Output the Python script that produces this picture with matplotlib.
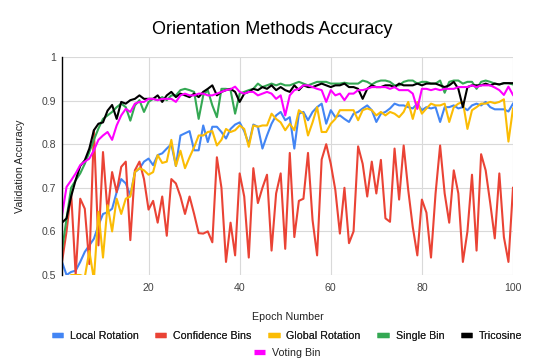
import matplotlib
matplotlib.use("Agg")
import matplotlib.pyplot as plt
from matplotlib.lines import Line2D

plt.rcParams['font.family'] = ['Liberation Sans', 'DejaVu Sans']

epochs = list(range(1, 101))

local_rotation = [
    0.53, 0.50, 0.507, 0.51, 0.53, 0.553, 0.568, 0.583, 0.614, 0.64,
    0.644, 0.652, 0.69, 0.72, 0.71, 0.683, 0.736, 0.744, 0.76, 0.767,
    0.752, 0.775, 0.779, 0.79, 0.80, 0.75, 0.82, 0.825, 0.83, 0.786,
    0.786, 0.843, 0.805, 0.84, 0.84, 0.828, 0.813, 0.835, 0.845, 0.85,
    0.83, 0.80, 0.845, 0.84, 0.79, 0.82, 0.847, 0.866, 0.874, 0.855,
    0.862, 0.79, 0.87, 0.874, 0.855, 0.874, 0.885, 0.893, 0.847, 0.878,
    0.862, 0.866, 0.858, 0.851, 0.87, 0.874, 0.882, 0.889, 0.878, 0.851,
    0.87, 0.874, 0.882, 0.893, 0.889, 0.889, 0.885, 0.882, 0.893, 0.878,
    0.885, 0.882, 0.885, 0.851, 0.885, 0.885, 0.889, 0.882, 0.885, 0.878,
    0.889, 0.893, 0.889, 0.897, 0.885, 0.88, 0.88, 0.88, 0.875, 0.893,
]

confidence_bins = [
    0.53, 0.60, 0.69, 0.50, 0.675, 0.652, 0.525, 0.832, 0.568, 0.782,
    0.644, 0.736, 0.69, 0.748, 0.76, 0.58, 0.74, 0.76, 0.72, 0.65,
    0.67, 0.62, 0.68, 0.59, 0.72, 0.71, 0.68, 0.64, 0.68, 0.64,
    0.596, 0.595, 0.60, 0.575, 0.77, 0.70, 0.53, 0.62, 0.545, 0.733,
    0.68, 0.54, 0.745, 0.665, 0.70, 0.73, 0.556, 0.687, 0.733, 0.56,
    0.78, 0.587, 0.67, 0.675, 0.78, 0.626, 0.545, 0.765, 0.80, 0.755,
    0.695, 0.595, 0.70, 0.573, 0.60, 0.795, 0.755, 0.68, 0.76, 0.687,
    0.764, 0.63, 0.622, 0.79, 0.673, 0.797, 0.695, 0.61, 0.545, 0.673,
    0.643, 0.54, 0.687, 0.797, 0.687, 0.62, 0.74, 0.687, 0.53, 0.60,
    0.73, 0.556, 0.777, 0.74, 0.665, 0.584, 0.733, 0.587, 0.53, 0.70,
]

global_rotation = [
    0.45, 0.49, 0.50, 0.50, 0.50, 0.495, 0.555, 0.49, 0.645, 0.54,
    0.66, 0.60, 0.675, 0.64, 0.675, 0.68, 0.736, 0.745, 0.74, 0.73,
    0.736, 0.775, 0.757, 0.76, 0.81, 0.75, 0.785, 0.745, 0.77, 0.793,
    0.82, 0.82, 0.828, 0.83, 0.797, 0.81, 0.835, 0.828, 0.832, 0.843,
    0.835, 0.794, 0.843, 0.84, 0.843, 0.843, 0.87, 0.858, 0.85, 0.832,
    0.847, 0.832, 0.878, 0.87, 0.82, 0.85, 0.885, 0.828, 0.828, 0.847,
    0.858, 0.878, 0.878, 0.878, 0.878, 0.855, 0.878, 0.882, 0.878, 0.866,
    0.874, 0.866, 0.874, 0.87, 0.862, 0.874, 0.897, 0.858, 0.897, 0.87,
    0.882, 0.893, 0.889, 0.889, 0.893, 0.851, 0.885, 0.893, 0.897, 0.835,
    0.878, 0.885, 0.893, 0.893, 0.897, 0.894, 0.897, 0.903, 0.806, 0.882,
]

single_bin = [
    0.555, 0.63, 0.70, 0.717, 0.733, 0.755, 0.782, 0.81, 0.836, 0.858,
    0.866, 0.874, 0.885, 0.893, 0.885, 0.854, 0.889, 0.901, 0.874, 0.897,
    0.904, 0.901, 0.908, 0.901, 0.912, 0.912, 0.924, 0.927, 0.924, 0.92,
    0.858, 0.912, 0.924, 0.889, 0.862, 0.927, 0.927, 0.924, 0.87, 0.916,
    0.92, 0.924, 0.927, 0.939, 0.931, 0.935, 0.939, 0.935, 0.939, 0.935,
    0.935, 0.939, 0.943, 0.939, 0.935, 0.939, 0.943, 0.943, 0.943, 0.939,
    0.939, 0.939, 0.941, 0.939, 0.939, 0.939, 0.946, 0.943, 0.937, 0.943,
    0.946, 0.946, 0.943, 0.935, 0.935, 0.943, 0.946, 0.946, 0.939, 0.943,
    0.943, 0.939, 0.939, 0.946, 0.918, 0.943, 0.946, 0.946, 0.939, 0.943,
    0.943, 0.927, 0.943, 0.946, 0.943, 0.939, 0.937, 0.94, 0.94, 0.937,
]

tricosine = [
    0.62, 0.63, 0.68, 0.718, 0.75, 0.763, 0.79, 0.832, 0.847, 0.85,
    0.877, 0.89, 0.858, 0.897, 0.893, 0.901, 0.904, 0.912, 0.904, 0.904,
    0.904, 0.912, 0.897, 0.912, 0.92, 0.908, 0.916, 0.912, 0.908, 0.916,
    0.908, 0.92, 0.927, 0.935, 0.912, 0.92, 0.924, 0.927, 0.92, 0.897,
    0.916, 0.92, 0.927, 0.924, 0.931, 0.927, 0.935, 0.924, 0.931, 0.924,
    0.92, 0.935, 0.924, 0.935, 0.931, 0.931, 0.935, 0.939, 0.935, 0.931,
    0.935, 0.935, 0.939, 0.931, 0.931, 0.927, 0.904, 0.927, 0.935, 0.931,
    0.931, 0.935, 0.935, 0.931, 0.939, 0.935, 0.935, 0.935, 0.939, 0.935,
    0.939, 0.939, 0.939, 0.935, 0.931, 0.935, 0.943, 0.927, 0.885, 0.931,
    0.935, 0.935, 0.935, 0.939, 0.935, 0.939, 0.937, 0.94, 0.94, 0.94,
]

voting_bin = [
    0.637, 0.702, 0.717, 0.733, 0.752, 0.76, 0.767, 0.786, 0.81, 0.82,
    0.828, 0.81, 0.843, 0.866, 0.881, 0.874, 0.893, 0.897, 0.897, 0.904,
    0.904, 0.901, 0.904, 0.904, 0.904, 0.897, 0.912, 0.916, 0.912, 0.912,
    0.916, 0.916, 0.912, 0.912, 0.916, 0.92, 0.924, 0.926, 0.932, 0.92,
    0.916, 0.92, 0.92, 0.912, 0.916, 0.92, 0.916, 0.904, 0.912, 0.866,
    0.912, 0.924, 0.927, 0.935, 0.935, 0.931, 0.927, 0.924, 0.897, 0.924,
    0.912, 0.916, 0.901, 0.916, 0.916, 0.924, 0.924, 0.927, 0.931, 0.931,
    0.931, 0.931, 0.927, 0.931, 0.924, 0.924, 0.924, 0.916, 0.881, 0.927,
    0.927, 0.924, 0.927, 0.924, 0.927, 0.927, 0.927, 0.931, 0.931, 0.931,
    0.935, 0.931, 0.935, 0.935, 0.935, 0.93, 0.924, 0.913, 0.932, 0.913,
]

series_names = ["Local Rotation", "Confidence Bins", "Global Rotation",
                "Single Bin", "Tricosine", "Voting Bin"]
series_values = [local_rotation, confidence_bins, global_rotation,
                 single_bin, tricosine, voting_bin]
series_colors = ["#4285F4", "#EA4335", "#FBBC04", "#34A853", "#000000", "#FF00FF"]

x_ticks = [20, 40, 60, 80, 100]
y_ticks = [0.5, 0.6, 0.7, 0.8, 0.9, 1.0]
y_tick_labels = ["0.5", "0.6", "0.7", "0.8", "0.9", "1"]

W, H = 545, 363
fig = plt.figure(figsize=(W / 100, H / 100), dpi=100)
L, R, T, B = 62, 513, 57, 275
ax = fig.add_axes([L / W, 1 - B / H, (R - L) / W, (B - T) / H])

for name, vals, col in zip(series_names, series_values, series_colors):
    ax.plot(epochs, vals, color=col, lw=1.5, label=name, solid_joinstyle='round')

ax.set_xlim(1, 100)
ax.set_ylim(0.5, 1.0)
ax.set_xticks(x_ticks)
ax.set_yticks(y_ticks)
ax.set_yticklabels(y_tick_labels)
ax.grid(True, color="#d9d9d9", lw=0.8)
ax.set_axisbelow(True)
ax.tick_params(length=0, labelsize=7.6, colors="#444444")
ax.tick_params(axis='x', pad=6)
ax.tick_params(axis='y', pad=4)
for s in ["top", "right", "bottom"]:
    ax.spines[s].set_visible(False)
ax.spines["left"].set_color("#000000")
ax.spines["left"].set_linewidth(1.0)

ax.set_xlabel("Epoch Number", fontsize=7.7, color="#222222")
ax.xaxis.label.set_va("center")
ax.xaxis.set_label_coords(0.5, (B - 317) / (B - T))
ax.set_ylabel("Validation Accuracy", fontsize=7.7, color="#222222")
ax.yaxis.label.set_va("center")
ax.yaxis.set_label_coords((20 - L) / (R - L), 0.5)

fig.text(0.5, 1 - 30 / H, "Orientation Methods Accuracy", ha="center", va="center",
         fontsize=13, color="#000000")

handles = [Line2D([], [], color=c, lw=3.8, solid_capstyle='butt') for c in series_colors]
leg1 = fig.legend(handles[:5], series_names[:5], loc="center", ncol=5,
                  bbox_to_anchor=(287 / W, 1 - 336 / H), frameon=False,
                  fontsize=7.7, handlelength=1.05, handletextpad=0.65,
                  columnspacing=1.55, labelcolor="#222222", borderaxespad=0, borderpad=0)
fig.add_artist(leg1)
fig.legend(handles[5:], series_names[5:], loc="center", ncol=1,
           bbox_to_anchor=(287 / W, 1 - 353 / H), frameon=False,
           fontsize=7.7, handlelength=1.05, handletextpad=0.65,
           labelcolor="#222222", borderaxespad=0, borderpad=0)

fig.savefig("out.png", dpi=100)
